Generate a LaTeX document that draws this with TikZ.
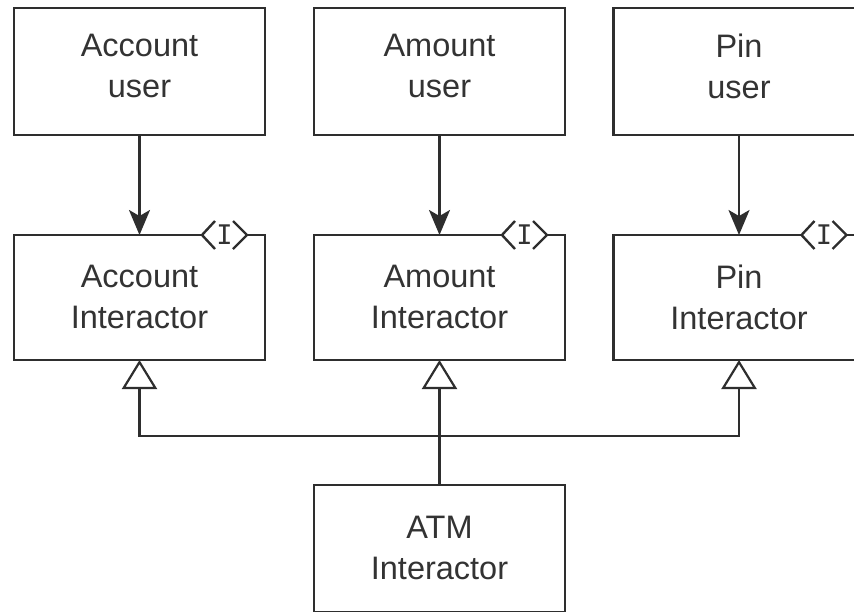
\documentclass[tikz,border=0pt]{standalone}
\usepackage{fontspec}
\setmainfont{Liberation Sans}
\newfontfamily\monof{DejaVu Sans Mono}
\usetikzlibrary{arrows.meta}
\definecolor{ink}{HTML}{2E2E2E}
\definecolor{txtc}{HTML}{333333}
\tikzset{
  boxshape/.style={rectangle, minimum width=251pt, minimum height=127pt, inner sep=0pt, outer sep=0pt},
  boxdraw/.style={boxshape, draw=ink, line width=2.4pt},
  outline/.style={draw=ink, line width=2.4pt, line join=miter},
  label text/.style={font=\fontsize{32.5}{41}\selectfont, align=center, inner sep=0pt, text=txtc},
  dep/.style={draw=ink, line width=2.2pt, -{Stealth[length=25pt, width=21pt, inset=6pt]}},
  inh/.style={draw=ink, line width=2.2pt, -{Triangle[open, length=29pt, width=35pt, fill=white]}},
  plainline/.style={draw=ink, line width=2.2pt},
  chev/.style={draw=ink, line width=2.4pt, line join=miter},
  ifacemark/.style={font=\monof\fontsize{27}{27}\selectfont, inner sep=0pt, text=txtc},
}
\begin{document}
\begin{tikzpicture}[x=1pt, y=-1pt]
\useasboundingbox (0,0) rectangle (854,611);
% user boxes
\node[boxdraw] (acu) at (139.5,71.5) {};
\node[boxdraw] (amu) at (439.5,71.5) {};
\node[boxdraw] (piu) at (739,71.5) {};
\node[label text] (acut) at (139.5,65.9) {Account\\user};
\node[label text] (amut) at (439.5,65.9) {Amount\\user};
\node[label text] (piut) at (739,65.9) {Pin\\user};
% interactor boxes (outline drawn below)
\node[boxshape, minimum height=125pt] (aci) at (139.5,297.5) {};
\node[boxshape, minimum height=125pt] (ami) at (439.5,297.5) {};
\node[boxshape, minimum height=125pt] (pii) at (739,297.5) {};
\node[label text] (acit) at (139.5,297) {Account\\Interactor};
\node[label text] (amit) at (439.5,297) {Amount\\Interactor};
\node[label text] (piit) at (739,297) {Pin\\Interactor};
\foreach \n in {aci,ami,pii}{
  \draw[outline] ([xshift=-63pt]\n.north east) -- (\n.north west) -- (\n.south west)
     -- (\n.south east) -- (\n.north east) -- ([xshift=-18pt]\n.north east);
  \draw[chev] ([xshift=-50pt,yshift=14pt]\n.north east) -- ([xshift=-63pt]\n.north east)
     -- ([xshift=-50pt,yshift=-14pt]\n.north east);
  \draw[chev] ([xshift=-32pt,yshift=14pt]\n.north east) -- ([xshift=-18pt]\n.north east)
     -- ([xshift=-32pt,yshift=-14pt]\n.north east);
  \node[ifacemark] (\n I) at ([xshift=-40.5pt]\n.north east) {I};
}
% ATM box
\node[boxdraw] (atm) at (439.5,548.5) {};
\node[label text] (atmt) at (439.5,547.5) {ATM\\Interactor};
% dependencies
\draw[dep] (acu.south) -- (aci.north);
\draw[dep] (amu.south) -- (ami.north);
\draw[dep] (piu.south) -- (pii.north);
% inheritance
\coordinate (join) at (439.5,436);
\draw[inh] (atm.north) -- (ami.south);
\draw[inh] (join) -| (aci.south);
\draw[inh] (join) -| (pii.south);
\end{tikzpicture}
\end{document}
